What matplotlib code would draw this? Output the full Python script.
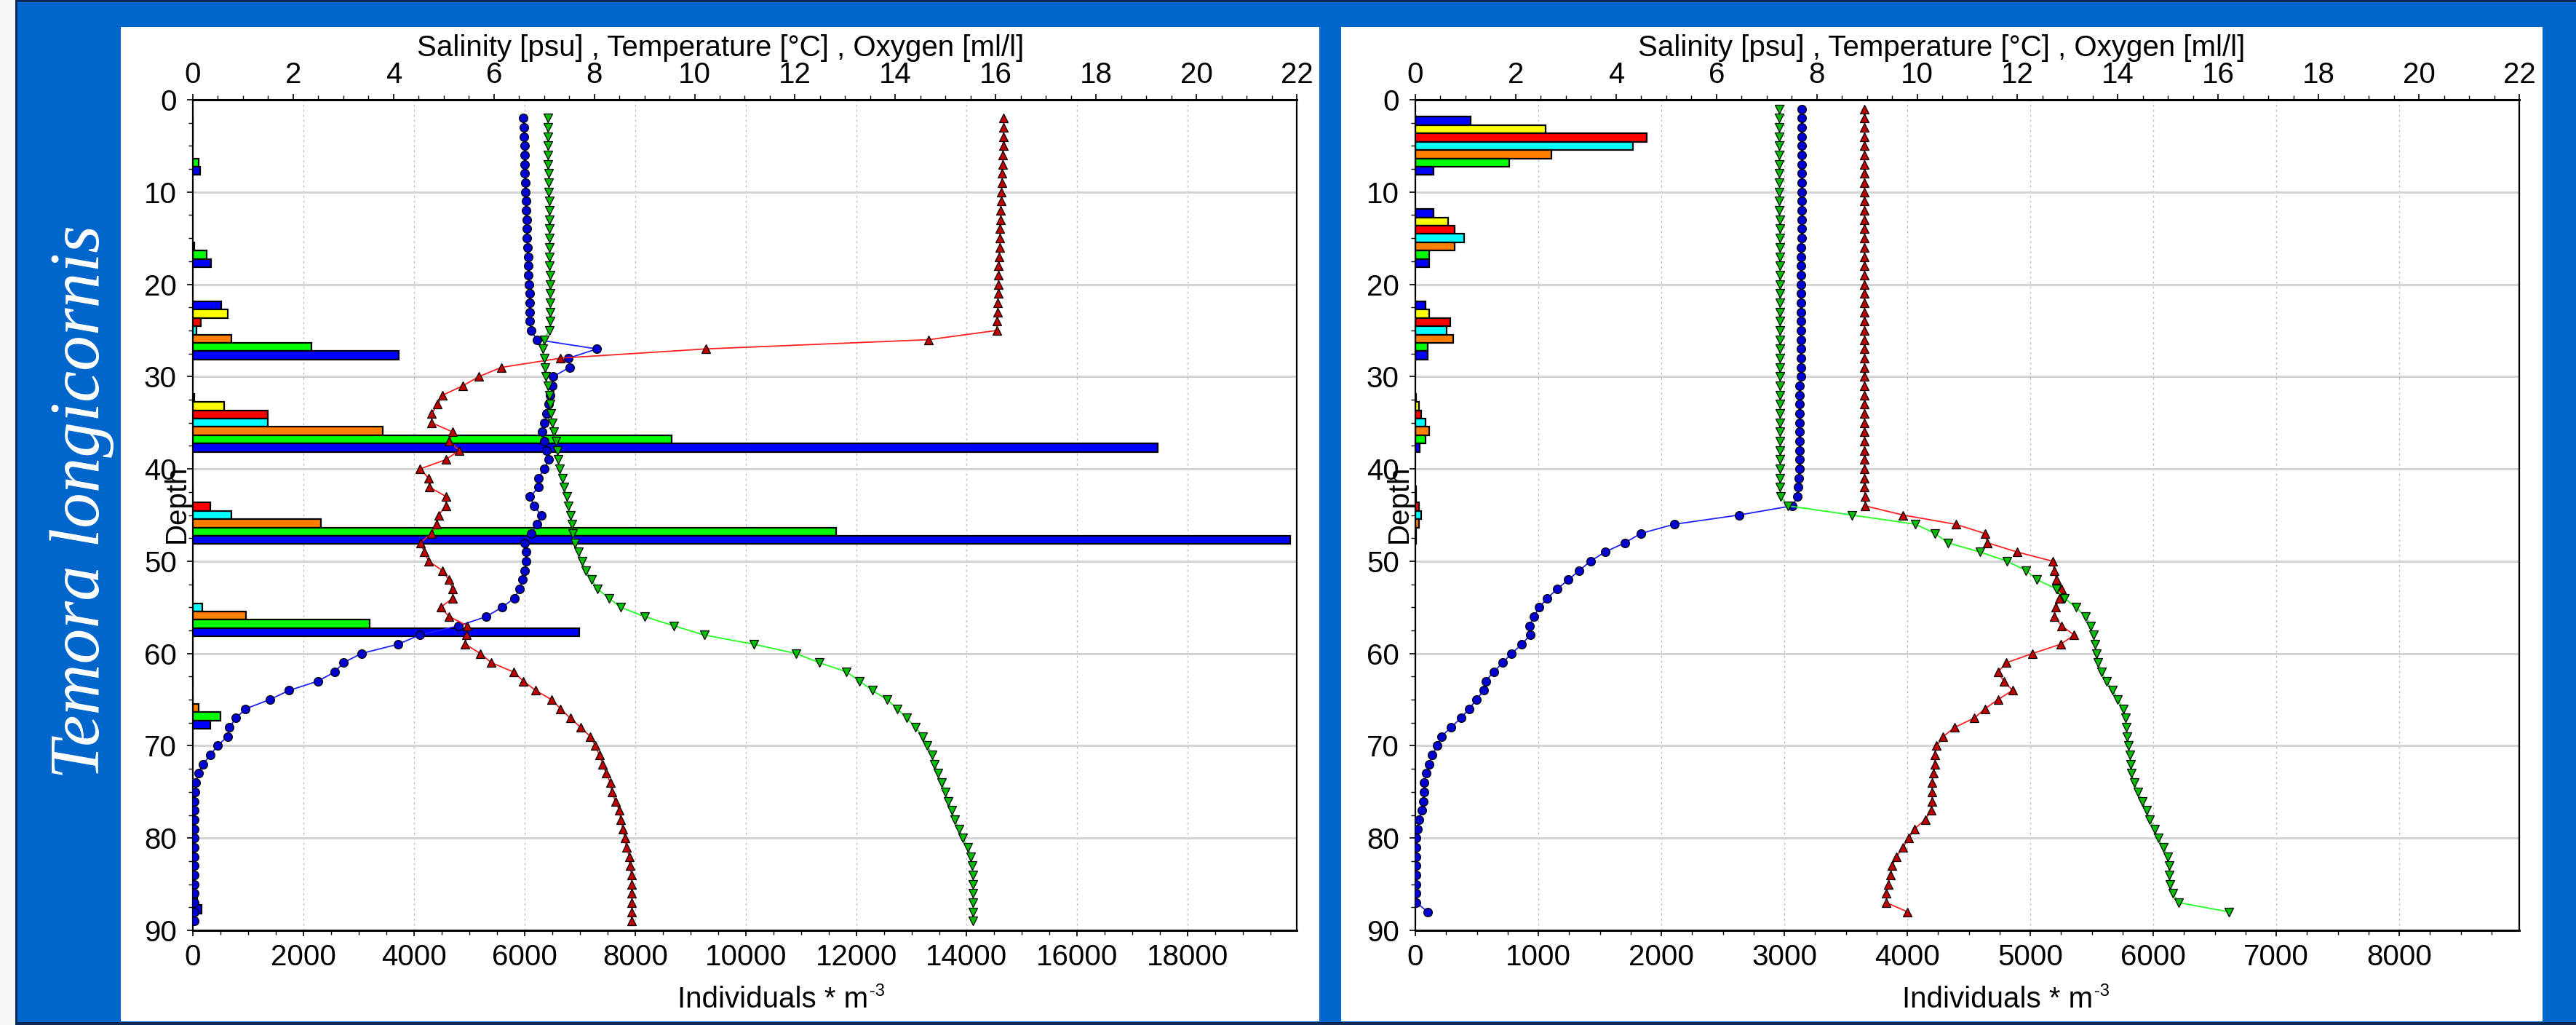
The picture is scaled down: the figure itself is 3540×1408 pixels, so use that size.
import matplotlib
matplotlib.use('Agg')
import matplotlib.pyplot as plt
from matplotlib.patches import Rectangle
from matplotlib.ticker import MultipleLocator

plt.rcParams['font.family'] = ['Liberation Sans', 'DejaVu Sans']

# ---------------- DATA ----------------
species = "Temora longicornis"
series_colors = ['#0000FF', '#FFFF00', '#FF0000', '#00FFFF', '#FF8000', '#00FF00', '#0000FF']
depth_groups = [5, 15, 25, 35, 45, 55, 65, 75, 85]   # centre of each 10 m sampling layer

# abundance (Individuals * m-3), one list per layer, 7 series each
left_bars = [
    [5, 5, 5, 0, 0, 100, 130],
    [0, 0, 0, 0, 20, 250, 335],
    [507, 635, 151, 64, 702, 2143, 3727],
    [30, 561, 1360, 1360, 3438, 8658, 17450],
    [5, 5, 320, 702, 2311, 11636, 19850],
    [5, 5, 5, 165, 956, 3199, 6992],
    [0, 3, 0, 3, 99, 495, 317],
    [0, 3, 0, 0, 3, 0, 0],
    [0, 0, 0, 0, 20, 80, 160],
]
right_bars = [
    [450, 1060, 1879, 1771, 1108, 764, 148],
    [148, 268, 317, 396, 317, 113, 113],
    [82, 114, 286, 252, 306, 98, 98],
    [5, 30, 48, 82, 114, 82, 37],
    [3, 3, 30, 48, 30, 5, 5],
    [0, 0, 0, 0, 0, 0, 0],
    [0, 0, 0, 0, 0, 0, 0],
    [0, 0, 0, 0, 0, 0, 0],
    [0, 0, 0, 0, 0, 0, 0],
]

left_depth = [2, 3, 4, 5, 6, 7, 8, 9, 10, 11, 12, 13, 14, 15, 16, 17, 18, 19, 20, 21, 22, 23, 24, 25,
              26, 27, 28, 29, 30, 31, 32, 33, 34, 35, 36, 37, 38, 39, 40, 41, 42, 43, 44,
              45, 46, 47, 48, 49, 50, 51, 52, 53, 54, 55, 56, 57, 58, 59,
              60, 61, 62, 63, 64, 65, 66, 67, 68, 69, 70, 71, 72, 73, 74, 75, 76, 77, 78, 79,
              80, 81, 82, 83, 84, 85, 86, 87, 88, 89]
left_salinity = [7.07, 7.07, 7.07, 7.08, 7.08, 7.08, 7.09, 7.09, 7.09, 7.10, 7.10, 7.10, 7.10, 7.11, 7.11,
                 7.11, 7.11, 7.12, 7.12, 7.12, 7.12, 7.12, 7.12, 7.10,
                 7.00, 6.97, 7.00, 7.02, 7.04, 7.07, 7.10, 7.12, 7.14, 7.17, 7.20, 7.23, 7.26, 7.28, 7.31,
                 7.36, 7.40, 7.45, 7.49,
                 7.52, 7.55, 7.57, 7.61, 7.68, 7.76, 7.83, 7.95, 8.06, 8.29, 8.53, 9.00, 9.59, 10.19, 11.18,
                 12.02, 12.49, 13.03, 13.29, 13.54, 13.84, 14.04, 14.23, 14.40, 14.55, 14.64, 14.73, 14.78,
                 14.85, 14.92, 15.00, 15.05, 15.13, 15.18, 15.27, 15.34, 15.45, 15.51, 15.53, 15.54, 15.55,
                 15.55, 15.55, 15.55, 15.55]
left_temperature = [16.16, 16.16, 16.15, 16.15, 16.14, 16.14, 16.13, 16.12, 16.11, 16.11, 16.10, 16.10,
                    16.09, 16.09, 16.08, 16.07, 16.06, 16.06, 16.05, 16.05, 16.04, 16.04, 16.03, 16.02,
                    14.66, 10.23, 7.33, 6.15, 5.70, 5.38, 4.98, 4.88, 4.76, 4.76, 5.18, 5.11, 5.31, 5.04,
                    4.53, 4.70, 4.72, 5.05, 5.04,
                    4.90, 4.86, 4.76, 4.54, 4.61, 4.70, 4.97, 5.10, 5.18, 5.18, 4.94, 5.11, 5.47, 5.45, 5.43,
                    5.73, 5.95, 6.39, 6.59, 6.83, 7.15, 7.33, 7.52, 7.73, 7.92, 8.02, 8.10, 8.17, 8.24, 8.32,
                    8.35, 8.42, 8.50, 8.53, 8.57, 8.61, 8.64, 8.70, 8.71, 8.74, 8.75, 8.75, 8.75, 8.75, 8.75]
left_oxygen = [6.59, 6.60, 6.60, 6.61, 6.61, 6.62, 6.62, 6.63, 6.63, 6.64, 6.64, 6.65, 6.65, 6.66, 6.67,
               6.68, 6.68, 6.69, 6.70, 6.71, 6.72, 6.72, 6.72, 6.74,
               6.86, 8.05, 7.49, 7.51, 7.18, 7.17, 7.12, 7.09, 7.05, 7.01, 6.96, 7.01, 7.05, 7.09, 7.00,
               6.89, 6.89, 6.72, 6.80,
               6.94, 6.86, 6.75, 6.61, 6.64, 6.64, 6.62, 6.57, 6.51, 6.41, 6.16, 5.85, 5.30, 4.52, 4.09,
               3.36, 3.00, 2.83, 2.49, 1.92, 1.53, 1.05, 0.86, 0.73, 0.69, 0.49, 0.35, 0.20, 0.11, 0.06,
               0.04, 0.03, 0.03, 0.03, 0.03, 0.03, 0.03, 0.03, 0.03, 0.03, 0.03, 0.03, 0.03, 0.03, 0.03]

right_depth = [1, 2, 3, 4, 5, 6, 7, 8, 9, 10, 11, 12, 13, 14, 15, 16, 17, 18, 19, 20, 21, 22, 23, 24, 25,
               26, 27, 28, 29, 30, 31, 32, 33, 34, 35, 36, 37, 38, 39, 40, 41, 42, 43, 44,
               45, 46, 47, 48, 49, 50, 51, 52, 53, 54, 55, 56, 57, 58, 59,
               60, 61, 62, 63, 64, 65, 66, 67, 68, 69, 70, 71, 72, 73, 74, 75, 76, 77, 78, 79,
               80, 81, 82, 83, 84, 85, 86, 87, 88]
right_salinity = [7.25, 7.25, 7.25, 7.25, 7.25, 7.25, 7.25, 7.25, 7.25, 7.25,
                  7.25, 7.25, 7.26, 7.26, 7.26, 7.26, 7.26, 7.26, 7.26, 7.26,
                  7.26, 7.26, 7.26, 7.26, 7.26, 7.26, 7.26, 7.26, 7.26, 7.26,
                  7.27, 7.27, 7.27, 7.27, 7.27, 7.27, 7.27, 7.27, 7.27, 7.27,
                  7.27, 7.27, 7.28, 7.42,
                  8.70, 9.97, 10.36, 10.61, 11.25, 11.79, 12.17, 12.39, 12.77, 12.93, 13.17, 13.35, 13.46,
                  13.51, 13.55,
                  13.57, 13.61, 13.68, 13.77, 13.90, 14.00, 14.11, 14.15, 14.17, 14.19, 14.21, 14.24, 14.26,
                  14.27, 14.33, 14.40, 14.49, 14.57, 14.64, 14.73, 14.80, 14.91, 14.99, 15.02, 15.02, 15.04,
                  15.09, 15.22, 16.22]
right_temperature = [8.95, 8.95, 8.95, 8.95, 8.95, 8.95, 8.95, 8.95, 8.95, 8.95,
                     8.95, 8.95, 8.95, 8.95, 8.95, 8.95, 8.95, 8.95, 8.95, 8.95,
                     8.95, 8.95, 8.95, 8.95, 8.95, 8.95, 8.95, 8.95, 8.95, 8.95,
                     8.95, 8.95, 8.95, 8.95, 8.95, 8.95, 8.95, 8.95, 8.95, 8.95,
                     8.95, 8.95, 8.96, 8.96,
                     9.72, 10.77, 11.35, 11.40, 11.99, 12.70, 12.73, 12.78, 12.88, 12.84, 12.76, 12.73, 12.88,
                     13.13, 12.86,
                     12.30, 11.78, 11.61, 11.73, 11.90, 11.61, 11.35, 11.14, 10.75, 10.52, 10.39, 10.35, 10.35,
                     10.32, 10.30, 10.30, 10.30, 10.28, 10.16, 9.95, 9.83, 9.72, 9.59, 9.50, 9.47, 9.42, 9.39,
                     9.39, 9.81]
right_oxygen = [7.70, 7.70, 7.70, 7.70, 7.70, 7.70, 7.70, 7.70, 7.70, 7.70,
                7.70, 7.70, 7.70, 7.70, 7.70, 7.68, 7.68, 7.68, 7.68, 7.68,
                7.68, 7.68, 7.68, 7.68, 7.68, 7.68, 7.68, 7.68, 7.68, 7.68,
                7.66, 7.66, 7.66, 7.66, 7.66, 7.66, 7.66, 7.66, 7.66, 7.66,
                7.64, 7.63, 7.62, 7.51,
                6.45, 5.16, 4.49, 4.18, 3.78, 3.49, 3.27, 3.05, 2.83, 2.63, 2.47, 2.36, 2.27, 2.29, 2.12,
                1.92, 1.74, 1.56, 1.40, 1.36, 1.22, 1.07, 0.91, 0.71, 0.52, 0.44, 0.33, 0.28, 0.22, 0.18,
                0.18, 0.16, 0.13, 0.07, 0.04, 0.02, 0.02, 0.02, 0.02, 0.02, 0.02, 0.02, 0.02, 0.25]

top_ticks = [0, 2, 4, 6, 8, 10, 12, 14, 16, 18, 20, 22]
left_bottom_ticks = [0, 2000, 4000, 6000, 8000, 10000, 12000, 14000, 16000, 18000]
right_bottom_ticks = [0, 1000, 2000, 3000, 4000, 5000, 6000, 7000, 8000]
depth_ticks = [0, 10, 20, 30, 40, 50, 60, 70, 80, 90]

top_label = "Salinity [psu] , Temperature [\u00b0C] , Oxygen [ml/l]"
bottom_label = "Individuals * m"
bottom_label_sup = "-3"
depth_label = "Depth"

# ---------------- FIGURE ----------------
W, H = 3541, 1408
fig = plt.figure(figsize=(W / 100, H / 100), dpi=100)
fig.patch.set_facecolor('#0066CC')


def rect_px(x0, y0, x1, y1):
    return [x0 / W, 1 - y1 / H, (x1 - x0) / W, (y1 - y0) / H]


def add_box(x0, y0, x1, y1, color, z=-2):
    r = rect_px(x0, y0, x1, y1)
    fig.add_artist(Rectangle((r[0], r[1]), r[2], r[3], transform=fig.transFigure,
                             facecolor=color, edgecolor='none', zorder=z))


# frame decorations
add_box(0, 0, 21, H, '#F4F6FA')
add_box(21, 0, 24, H, '#0A2A5A')
add_box(21, 0, W, 3, '#0A2A5A')
add_box(21, 1404, W, H, '#0A2A5A')
# white panels
add_box(166, 37, 1813, 1403, 'white')
add_box(1843, 37, 3494, 1403, 'white')

FS = 29


def make_panel(ax_px, xmax, bottom_ticks, minor_step, bars, sal, tem, oxy, depth_s, depth_t, depth_o,
               label_cx_top, label_cx_bottom, depth_label_x):
    ax = fig.add_axes(rect_px(*ax_px))
    ax.set_facecolor('white')
    ax.set_xlim(0, xmax)
    ax.set_ylim(90, 0)
    ax.set_axisbelow(True)
    # bars
    bar_h = 0.9
    for gi, gc in enumerate(depth_groups):
        for si, val in enumerate(bars[gi]):
            if val <= 0:
                continue
            yc = gc + (si - 3) * bar_h
            ax.barh(yc, val, height=bar_h, color=series_colors[si], edgecolor='black',
                    linewidth=1.6, zorder=2)
    ax.set_xticks(bottom_ticks)
    ax.set_xticklabels([str(t) for t in bottom_ticks])
    ax.xaxis.set_minor_locator(MultipleLocator(minor_step))
    ax.set_yticks(depth_ticks)
    ax.yaxis.set_minor_locator(MultipleLocator(2.5))
    ax.tick_params(axis='x', which='major', direction='out', length=6, width=1.2, pad=7,
                   labelsize=FS, bottom=True, top=False)
    ax.tick_params(axis='x', which='minor', direction='out', length=4, width=1.0)
    ax.tick_params(axis='y', which='major', direction='out', length=6, width=1.2, pad=10,
                   labelsize=FS, right=False)
    ax.tick_params(axis='y', which='minor', direction='out', length=4, width=1.0, right=False)
    ax.grid(axis='y', which='major', color='#D4D4D4', linewidth=2.2, linestyle='-')
    ax.grid(axis='x', which='major', color='#BDBDBD', linewidth=1.0, linestyle=(0, (2, 3)))
    for s in ax.spines.values():
        s.set_linewidth(1.6)
    ax.spines['bottom'].set_linewidth(2.2)
    ax.spines['top'].set_linewidth(2.2)

    axt = ax.twiny()
    axt.set_xlim(0, 22)
    axt.set_ylim(90, 0)
    axt.set_xticks(top_ticks)
    axt.set_xticklabels([str(t) for t in top_ticks])
    axt.xaxis.set_minor_locator(MultipleLocator(0.5))
    axt.tick_params(axis='x', which='major', direction='out', length=6, width=1.2, pad=5,
                    labelsize=FS)
    axt.tick_params(axis='x', which='minor', direction='out', length=4, width=1.0)
    for s in axt.spines.values():
        s.set_visible(False)
    axt.patch.set_visible(False)

    axt.plot(oxy, depth_o, color='#2020FF', linewidth=1.3, marker='o', markersize=8.5,
             markerfacecolor='#0000D0', markeredgecolor='black', markeredgewidth=0.9, zorder=5)
    axt.plot(tem, depth_t, color='#FF2020', linewidth=1.3, marker='^', markersize=9,
             markerfacecolor='#C00000', markeredgecolor='black', markeredgewidth=0.9, zorder=5)
    axt.plot(sal, depth_s, color='#20FF20', linewidth=1.3, marker='v', markersize=9,
             markerfacecolor='#00C000', markeredgecolor='black', markeredgewidth=0.9, zorder=5)

    fig.text(label_cx_top / W, 1 - 77 / H, top_label, ha='center', va='baseline', fontsize=FS)
    t = fig.text(label_cx_bottom / W, 1 - 1384 / H, bottom_label, ha='center', va='baseline',
                 fontsize=FS)
    fig.canvas.draw()
    bb = t.get_window_extent()
    fig.text((bb.x1 + 2) / W, 1 - 1368 / H, bottom_label_sup, ha='left', va='baseline', fontsize=17)
    fig.text(depth_label_x / W, 1 - 692 / H, depth_label, rotation=90, ha='center', va='center',
             fontsize=FS)
    return ax, axt


make_panel((265, 137, 1782, 1278), 19970, left_bottom_ticks, 500, left_bars,
           left_salinity, left_temperature, left_oxygen, left_depth, left_depth, left_depth,
           990, 1062, 243)
make_panel((1945, 137, 3462, 1278), 8975, right_bottom_ticks, 250, right_bars,
           right_salinity, right_temperature, right_oxygen, right_depth, right_depth, right_depth,
           2668, 2745, 1923)

fig.text(113 / W, 1 - 689 / H, species, rotation=90, ha='center', va='center', color='white',
         fontsize=70, fontstyle='italic', family=['Liberation Serif', 'DejaVu Serif'])

fig.savefig('out.png', dpi=100, facecolor=fig.get_facecolor())
